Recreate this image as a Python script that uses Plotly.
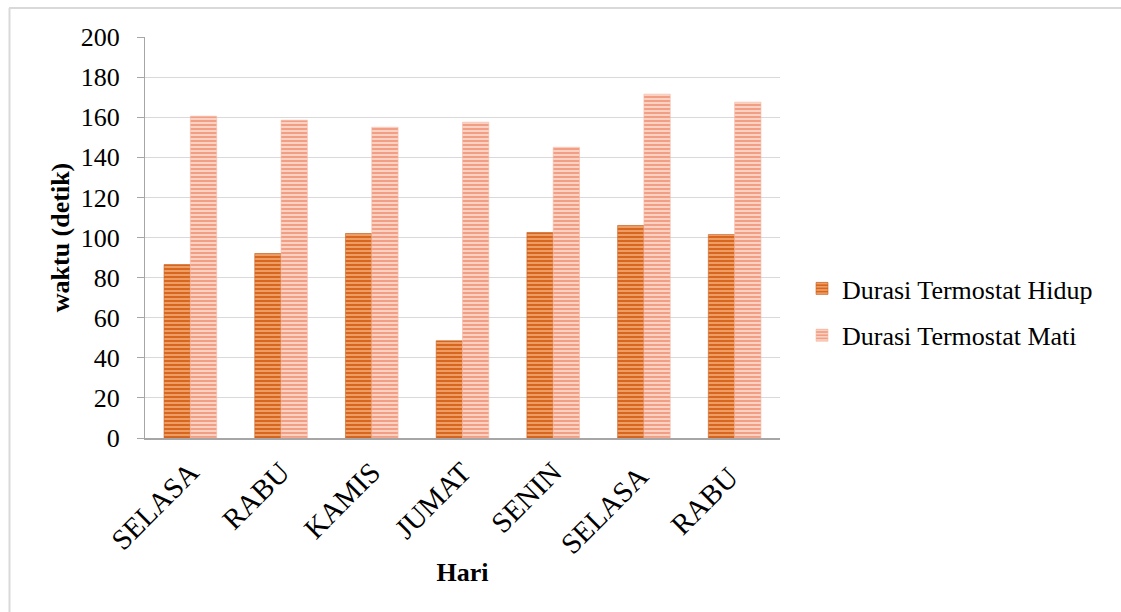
import plotly.graph_objects as go

# Data: daily thermostat on/off durations (seconds)
hari = ["SELASA", "RABU", "KAMIS", "JUMAT", "SENIN", "SELASA ", "RABU "]
hidup = [86.5, 92, 102, 48.5, 102.5, 106, 101.5]
mati = [160.5, 158.5, 155, 157.5, 145, 171.5, 167.5]
y_ticks = [0, 20, 40, 60, 80, 100, 120, 140, 160, 180, 200]

W, H = 1121, 612
L, R, T, B = 145, 341, 37, 174
pw, ph = W - L - R, H - T - B

font_family = "Liberation Serif, Times New Roman, serif"
FS = 26

fig = go.Figure()
fig.add_trace(go.Bar(
    x=hari, y=hidup, name="Durasi Termostat Hidup",
    legendgroup="a",
    marker=dict(
        color="#DA6A22",
        line=dict(color="#C8601E", width=0.6),
        pattern=dict(shape="-", size=4, solidity=0.45,
                     fgcolor="#EFA46C", bgcolor="#D9661E", fillmode="replace"),
    ),
))
fig.add_trace(go.Bar(
    x=hari, y=mati, name="Durasi Termostat Mati",
    legendgroup="b",
    marker=dict(
        color="#F3A48A",
        line=dict(color="#F6B8A2", width=0.6),
        pattern=dict(shape="-", size=4, solidity=0.45,
                     fgcolor="#FBD8CA", bgcolor="#F29E84", fillmode="replace"),
    ),
))

# light frame around the chart (top and left edges)
def px_x(v):
    return (v - L) / pw

def px_y(v):
    return (H - B - v) / ph

frame = dict(color="#D9D9D9", width=2)
fig.add_shape(type="line", xref="paper", yref="paper",
              x0=px_x(9), x1=px_x(W + 5), y0=px_y(8), y1=px_y(8), line=frame)
fig.add_shape(type="line", xref="paper", yref="paper",
              x0=px_x(9.5), x1=px_x(9.5), y0=px_y(8), y1=px_y(H + 5), line=frame)

fig.update_layout(
    width=W, height=H,
    margin=dict(l=L, r=R, t=T, b=B),
    paper_bgcolor="white", plot_bgcolor="white",
    barmode="group", bargap=0.42, bargroupgap=0,
    font=dict(family=font_family, size=FS, color="black"),
    showlegend=True,
    legend=dict(
        x=px_x(802), y=px_y(265), xanchor="left", yanchor="top",
        font=dict(family=font_family, size=FS, color="black"),
        traceorder="grouped", tracegroupgap=10,
        itemwidth=30, bgcolor="rgba(0,0,0,0)",
    ),
    xaxis=dict(
        tickangle=-45,
        tickfont=dict(family=font_family, size=29, color="black"),
        showline=True, linecolor="#A6A6A6", linewidth=1.5,
        ticks="", showgrid=False,
        ticklabelstandoff=4,
        title=dict(text="<b>Hari</b>", font=dict(family=font_family, size=FS, color="black"),
                   standoff=4),
    ),
    yaxis=dict(
        range=[0, 200],
        tickvals=y_ticks,
        tickfont=dict(family=font_family, size=FS, color="black"),
        showline=True, linecolor="#A6A6A6", linewidth=1.2,
        ticks="outside", ticklen=7, tickcolor="#A6A6A6", tickwidth=1,
        ticklabelstandoff=12,
        showgrid=True, gridcolor="#D9D9D9", gridwidth=1.2,
        zeroline=False,
        title=dict(text="<b>waktu (detik)</b>", font=dict(family=font_family, size=FS, color="black"),
                   standoff=3),
    ),
)

fig.write_html("out.html")
